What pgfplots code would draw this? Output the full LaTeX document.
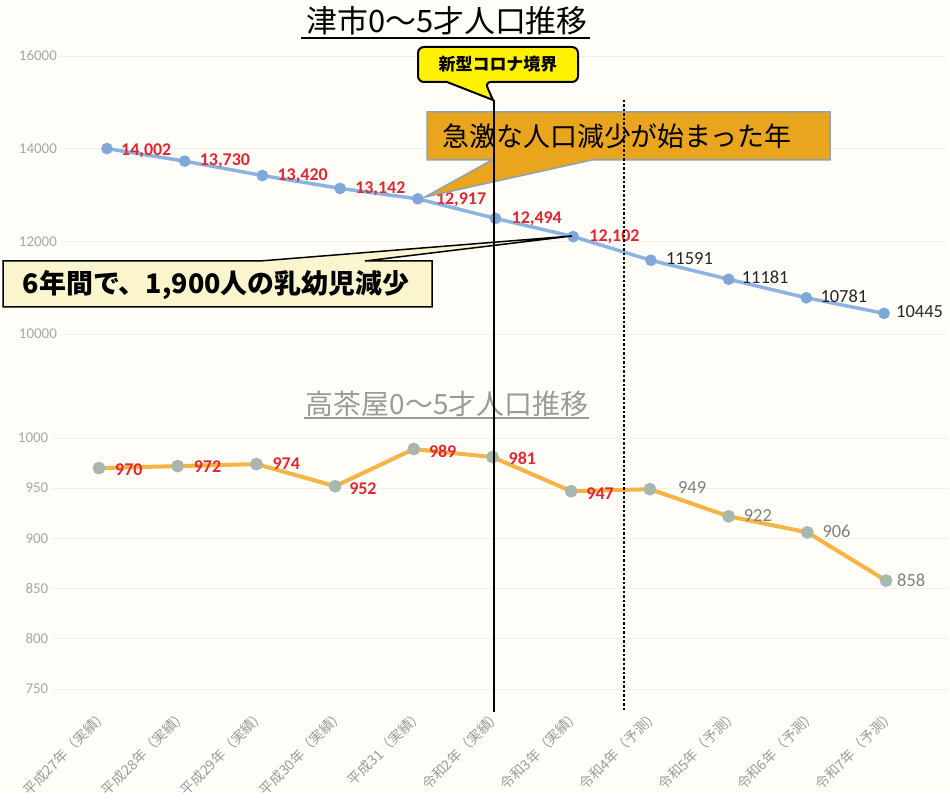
\documentclass[border=0pt]{standalone}
\usepackage{fontspec}
\setmainfont{Carlito}
\newfontfamily\jp{Noto Sans CJK JP}
\usepackage{pgfplots}
\pgfplotsset{compat=1.18}

\definecolor{bg}{HTML}{FFFEF8}
\definecolor{topline}{HTML}{8DB3E2}
\definecolor{topmark}{HTML}{7FA8D8}
\definecolor{botline}{HTML}{F5B443}
\definecolor{botmark}{HTML}{A8B6B0}
\definecolor{lblred}{HTML}{E3262F}
\definecolor{tickgray}{HTML}{A6A6A6}
\definecolor{xlblgray}{HTML}{9A9A9A}
\definecolor{yel}{HTML}{FFF200}
\definecolor{org}{HTML}{E9A51D}
\definecolor{orgborder}{HTML}{8DA2B8}
\definecolor{lightyel}{HTML}{FBF5CE}
\definecolor{fcgray}{HTML}{7F7F7F}

\pgfplotsset{
  common/.style={
    scale only axis, anchor=south west, clip=false,
    axis line style={draw=none}, major tick length=0pt,
    ymajorgrids, grid style={black!6, line width=0.8bp},
    scaled y ticks=false,
    /pgf/number format/assume math mode=true,
    /pgf/number format/set thousands separator={},
    yticklabel style={font=\fontsize{15}{15}\selectfont, text=tickgray},
  }
}

\begin{document}
\begin{tikzpicture}
\begin{scope}[x=1bp,y=1bp]
\path[use as bounding box, fill=bg] (0,0) rectangle (950,792);
% titles
\node[font=\jp\fontsize{31}{31}\selectfont, anchor=base, inner sep=0pt] at (447,759) {津市0～5才人口推移};
\draw[line width=1.6bp] (301,754) -- (590,754);
\node[font=\jp\fontsize{28}{28}\selectfont, anchor=base, inner sep=0pt, text=xlblgray] at (447,378) {高茶屋0～5才人口推移};
\draw[line width=1.3bp, xlblgray] (304,374) -- (589,374);
\end{scope}

% top axis
\begin{axis}[common, at={(60.38bp,458bp)}, width=885.8bp, height=278bp,
  xmin=-0.6, xmax=10.8, ymin=10000, ymax=16000,
  ytick={10000,12000,14000,16000}, xtick=\empty]
\addplot[topline, line width=3.5bp, mark=*, mark size=4bp,
  mark options={fill=topmark, draw=topmark}]
  coordinates {(0,14002)(1,13730)(2,13420)(3,13142)(4,12917)(5,12494)(6,12102)(7,11591)(8,11181)(9,10781)(10,10445)};
\begin{scope}[every node/.style={anchor=west, text=lblred, font=\bfseries\fontsize{18}{18}\selectfont, inner sep=0pt}]
\node[xshift=14bp, yshift=-2bp] at (axis cs:0,14002) {14,002};
\node[xshift=15bp, yshift=0bp] at (axis cs:1,13730) {13,730};
\node[xshift=15bp, yshift=0bp] at (axis cs:2,13420) {13,420};
\node[xshift=15bp, yshift=0bp] at (axis cs:3,13142) {13,142};
\node[xshift=18bp, yshift=-1bp] at (axis cs:4,12917) {12,917};
\node[xshift=16bp, yshift=0bp] at (axis cs:5,12494) {12,494};
\node[xshift=16bp, yshift=0bp] at (axis cs:6,12102) {12,102};
\end{scope}
\begin{scope}[every node/.style={anchor=west, text=black!85, font=\fontsize{18.5}{18.5}\selectfont, inner sep=0pt}]
\node[xshift=15bp, yshift=2bp] at (axis cs:7,11591) {11591};
\node[xshift=13bp, yshift=2bp] at (axis cs:8,11181) {11181};
\node[xshift=14bp, yshift=2bp] at (axis cs:9,10781) {10781};
\node[xshift=12bp, yshift=2bp] at (axis cs:10,10445) {10445};
\end{scope}
\end{axis}

% bottom axis
\begin{axis}[common, at={(51.78bp,103bp)}, width=897.2bp, height=251bp,
  xmin=-0.6, xmax=10.8, ymin=750, ymax=1000,
  ytick={750,800,850,900,950,1000},
  xtick={0,...,10},
  xticklabels={平成27年（実績）,平成28年（実績）,平成29年（実績）,平成30年（実績）,平成31（実績）,令和2年（実績）,令和3年（実績）,令和4年（予測）,令和5年（予測）,令和6年（予測）,令和7年（予測）},
  xticklabel style={xshift=9bp, yshift=-21bp, rotate=45, anchor=east, font=\jp\fontsize{14}{14}\selectfont, text=xlblgray}]
\addplot[botline, line width=4bp, mark=*, mark size=4.3bp,
  mark options={fill=botmark, draw=botmark}]
  coordinates {(0,970)(1,972)(2,974)(3,952)(4,989)(5,981)(6,947)(7,949)(8,922)(9,906)(10,858)};
\begin{scope}[every node/.style={anchor=west, text=lblred, font=\bfseries\fontsize{18}{18}\selectfont, inner sep=0pt}]
\node[xshift=16bp, yshift=-2bp] at (axis cs:0,970) {970};
\node[xshift=16bp, yshift=-1bp] at (axis cs:1,972) {972};
\node[xshift=16bp, yshift=0bp] at (axis cs:2,974) {974};
\node[xshift=14bp, yshift=-2bp] at (axis cs:3,952) {952};
\node[xshift=15bp, yshift=-2bp] at (axis cs:4,989) {989};
\node[xshift=16bp, yshift=-1bp] at (axis cs:5,981) {981};
\node[xshift=15bp, yshift=-2bp] at (axis cs:6,947) {947};
\end{scope}
\begin{scope}[every node/.style={anchor=west, text=fcgray, font=\fontsize{18.5}{18.5}\selectfont, inner sep=0pt}]
\node[xshift=28bp, yshift=2bp] at (axis cs:7,949) {949};
\node[xshift=15bp, yshift=1bp] at (axis cs:8,922) {922};
\node[xshift=15bp, yshift=1bp] at (axis cs:9,906) {906};
\node[xshift=11bp, yshift=0bp] at (axis cs:10,858) {858};
\end{scope}
\end{axis}

\begin{scope}[x=1bp,y=1bp]
% callout: yellow
\draw[line width=2bp, fill=yel] (447,710) [rounded corners=6bp] -- (418,710) -- (418,745) -- (578,745) -- (578,710) -- (485,710) [sharp corners] -- (493,692) -- cycle;
\node[font=\jp\bfseries\fontsize{17}{17}\selectfont] at (498,727.5) {新型コロナ境界};
% callout: orange
\draw[line width=1.5bp, draw=orgborder, fill=org] (492,632) -- (427,632) -- (427,680) -- (830,680) -- (830,632) -- (592,632) -- (425,595) -- cycle;
\node[font=\jp\fontsize{27}{27}\selectfont] at (617,656) {急激な人口減少が始まった年};
% callout: light yellow
\draw[line width=1.5bp, fill=lightyel] (365,531) -- (432,531) -- (432,485) -- (3,485) -- (3,531) -- (260,531) -- (572,556) -- cycle;
\node[font=\jp\bfseries\fontsize{27}{27}\selectfont] at (216,507) {6年間で、1,900人の乳幼児減少};
% vertical lines
\draw[line width=1.3bp] (494,692) -- (494,80);
\draw[line width=1.3bp, dash pattern=on 2.5bp off 2bp] (624,692) -- (624,82);
\end{scope}
\end{tikzpicture}
\end{document}
